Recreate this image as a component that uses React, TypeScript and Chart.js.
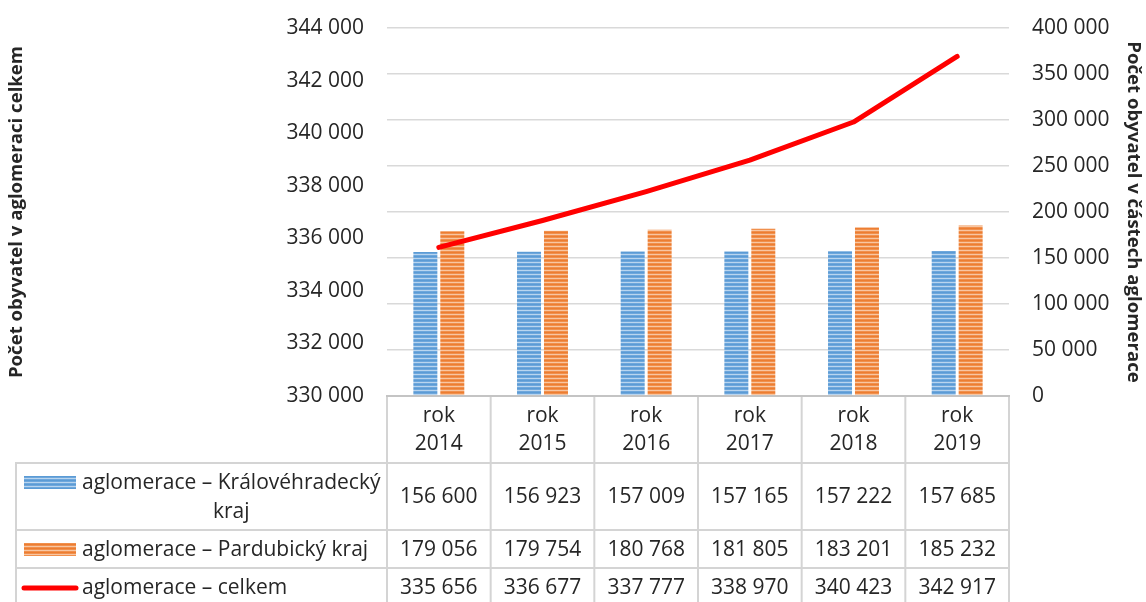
import React, { useEffect, useRef } from 'react';
import { Chart, registerables } from 'chart.js';

Chart.register(...registerables);

// ---------- data ----------
const categories = ['rok 2014', 'rok 2015', 'rok 2016', 'rok 2017', 'rok 2018', 'rok 2019'];
const kralovehradecky = [156600, 156923, 157009, 157165, 157222, 157685];
const pardubicky = [179056, 179754, 180768, 181805, 183201, 185232];
const celkem = [335656, 336677, 337777, 338970, 340423, 342917];
const seriesNames = [
  'aglomerace – Královéhradecký kraj',
  'aglomerace – Pardubický kraj',
  'aglomerace – celkem',
];
const leftAxisTitle = 'Počet obyvatel v aglomeraci celkem';
const rightAxisTitle = 'Počet obyvatel v částech aglomerace';
const leftTicks = { min: 330000, max: 344000, step: 2000 };
const rightTicks = { min: 0, max: 400000, step: 50000 };

// ---------- styles ----------
const FONT = '"Open Sans", "Noto Sans", sans-serif';
const TEXT = '#262626';
const GRID = '#d9d9d9';

const fmt = (v: number | string) =>
  String(Math.round(Number(v))).replace(/\B(?=(\d{3})+(?!\d))/g, ' ');

function stripes(colors: string[]): CanvasPattern {
  const c = document.createElement('canvas');
  c.width = 8;
  c.height = colors.length;
  const g = c.getContext('2d')!;
  colors.forEach((col, i) => {
    g.fillStyle = col;
    g.fillRect(0, i, 8, 1);
  });
  return g.createPattern(c, 'repeat')!;
}

function wrap(ctx: CanvasRenderingContext2D, text: string, maxW: number): string[] {
  const words = text.split(' ');
  const lines: string[] = [];
  let cur = '';
  for (const w of words) {
    const test = cur ? cur + ' ' + w : w;
    if (cur && ctx.measureText(test).width > maxW) {
      lines.push(cur);
      cur = w;
    } else cur = test;
  }
  if (cur) lines.push(cur);
  return lines;
}

export default function App() {
  const ref = useRef<HTMLCanvasElement>(null);

  useEffect(() => {
    const canvas = ref.current!;
    const blue = stripes(['#5b9bd5', '#6ea7dc', '#b9d5ef', '#6ea7dc']);
    const orange = stripes(['#ed7d31', '#f0904d', '#f8c6a2', '#f0904d']);
    const swatches = [
      { kind: 'bar', fill: blue },
      { kind: 'bar', fill: orange },
      { kind: 'line', color: '#ff0000' },
    ];
    const rows = [kralovehradecky, pardubicky, celkem];

    const tablePlugin = {
      id: 'dataTable',
      afterDraw(chart: any) {
        const { ctx, chartArea } = chart;
        const xs = chart.scales.x;
        const n = categories.length;
        const left = chartArea.left;
        const right = chartArea.right;
        const colW = (right - left) / n;
        const top = chartArea.bottom;
        const rowH = [67, 67, 38, 38];
        const ys = [top];
        rowH.forEach((h) => ys.push(ys[ys.length - 1] + h));
        const legendLeft = 16;

        ctx.save();
        ctx.fillStyle = '#ffffff';
        ctx.fillRect(left, top, right - left, ys[4] - top);
        ctx.fillRect(legendLeft, ys[1], left - legendLeft, ys[4] - ys[1]);

        // borders
        ctx.strokeStyle = '#d4d4d4';
        ctx.lineWidth = 2;
        const line = (x1: number, y1: number, x2: number, y2: number) => {
          ctx.beginPath();
          ctx.moveTo(x1, y1);
          ctx.lineTo(x2, y2);
          ctx.stroke();
        };
        for (let i = 1; i < ys.length; i++) line(legendLeft, ys[i], right + 1, ys[i]);
        for (let j = 0; j <= n; j++) {
          const x = left + j * colW;
          line(x, top, x, ys[4]);
        }
        line(legendLeft, ys[1] - 1, legendLeft, ys[4]);
        ctx.strokeStyle = '#c4c4c4';
        line(left - 1, top, right + 1, top);

        // header
        ctx.font = `21px ${FONT}`;
        ctx.fillStyle = TEXT;
        ctx.textAlign = 'center';
        ctx.textBaseline = 'middle';
        categories.forEach((c, i) => {
          const cx = xs.getPixelForValue(i);
          const parts = c.split(' ');
          parts.forEach((p, k) => ctx.fillText(p, cx, top + 20 + k * 28));
        });

        // rows
        rows.forEach((vals, r) => {
          const cy = (ys[r + 1] + ys[r + 2]) / 2;
          ctx.textAlign = 'center';
          ctx.fillStyle = TEXT;
          vals.forEach((v, i) => ctx.fillText(fmt(v), xs.getPixelForValue(i), cy + 1));

          // legend cell
          const textX = 82;
          const lines = wrap(ctx, seriesNames[r], left - textX - 2);
          const lh = 29;
          const y0 = cy - ((lines.length - 1) * lh) / 2;
          const w1 = ctx.measureText(lines[0]).width;
          lines.forEach((ln, k) => {
            if (k === 0) {
              ctx.textAlign = 'left';
              ctx.fillText(ln, textX, y0 + 1);
            } else {
              ctx.textAlign = 'center';
              ctx.fillText(ln, textX + w1 / 2, y0 + k * lh + 1);
            }
          });
          const sw: any = swatches[r];
          if (sw.kind === 'bar') {
            ctx.fillStyle = sw.fill;
            ctx.fillRect(24, Math.round(y0) - 6, 52, 13);
          } else {
            ctx.strokeStyle = sw.color;
            ctx.lineWidth = 5;
            ctx.lineCap = 'round';
            line(24, y0 + 1, 76, y0 + 1);
          }
          ctx.fillStyle = TEXT;
        });
        ctx.restore();
      },
    };

    const fitY = (width: number) => (s: any) => {
      s.width = width;
      s.paddingTop = 8;
      s.paddingBottom = 8;
    };

    const chart = new Chart(canvas, {
      type: 'bar',
      data: {
        labels: categories,
        datasets: [
          {
            label: seriesNames[0],
            data: kralovehradecky,
            yAxisID: 'yR',
            backgroundColor: blue as any,
            categoryPercentage: 0.52,
            barPercentage: 0.89,
            order: 2,
          },
          {
            label: seriesNames[1],
            data: pardubicky,
            yAxisID: 'yR',
            backgroundColor: orange as any,
            categoryPercentage: 0.52,
            barPercentage: 0.89,
            order: 2,
          },
          {
            type: 'line',
            label: seriesNames[2],
            data: celkem,
            yAxisID: 'yL',
            borderColor: '#ff0000',
            backgroundColor: '#ff0000',
            borderWidth: 5,
            pointRadius: 0,
            tension: 0,
            borderCapStyle: 'round',
            borderJoinStyle: 'round',
            order: 1,
          } as any,
        ],
      },
      options: {
        responsive: false,
        maintainAspectRatio: false,
        animation: false,
        layout: { autoPadding: false, padding: { top: 28, bottom: 206, left: 0, right: 0 } },
        plugins: { legend: { display: false }, tooltip: { enabled: false } },
        scales: {
          x: { display: false, offset: true },
          yL: {
            type: 'linear',
            position: 'left',
            min: leftTicks.min,
            max: leftTicks.max,
            ticks: {
              stepSize: leftTicks.step,
              padding: 23,
              color: TEXT,
              font: { family: FONT, size: 21 },
              callback: (v: any) => fmt(v),
            },
            grid: { display: false, drawTicks: false },
            border: { display: false },
            title: {
              display: true,
              text: leftAxisTitle,
              color: TEXT,
              font: { family: FONT, size: 18.6, weight: 'bold' },
              padding: { top: 6, bottom: 0 },
            },
            afterFit: fitY(387),
          },
          yR: {
            type: 'linear',
            position: 'right',
            min: rightTicks.min,
            max: rightTicks.max,
            ticks: {
              stepSize: rightTicks.step,
              padding: 23,
              color: TEXT,
              font: { family: FONT, size: 21 },
              callback: (v: any) => fmt(v),
            },
            grid: { color: GRID, lineWidth: 1.5, drawTicks: false },
            border: { display: false },
            title: {
              display: true,
              text: rightAxisTitle,
              color: TEXT,
              font: { family: FONT, size: 18.6, weight: 'bold' },
              padding: { top: 2, bottom: 0 },
            },
            afterFit: fitY(137),
          },
        } as any,
      },
      plugins: [tablePlugin],
    });
    return () => chart.destroy();
  }, []);

  return (
    <div style={{ position: 'fixed', left: 0, top: 0, width: 1146, height: 602, background: '#fff' }}>
      <canvas ref={ref} width={1146} height={602} style={{ display: 'block' }} />
    </div>
  );
}
